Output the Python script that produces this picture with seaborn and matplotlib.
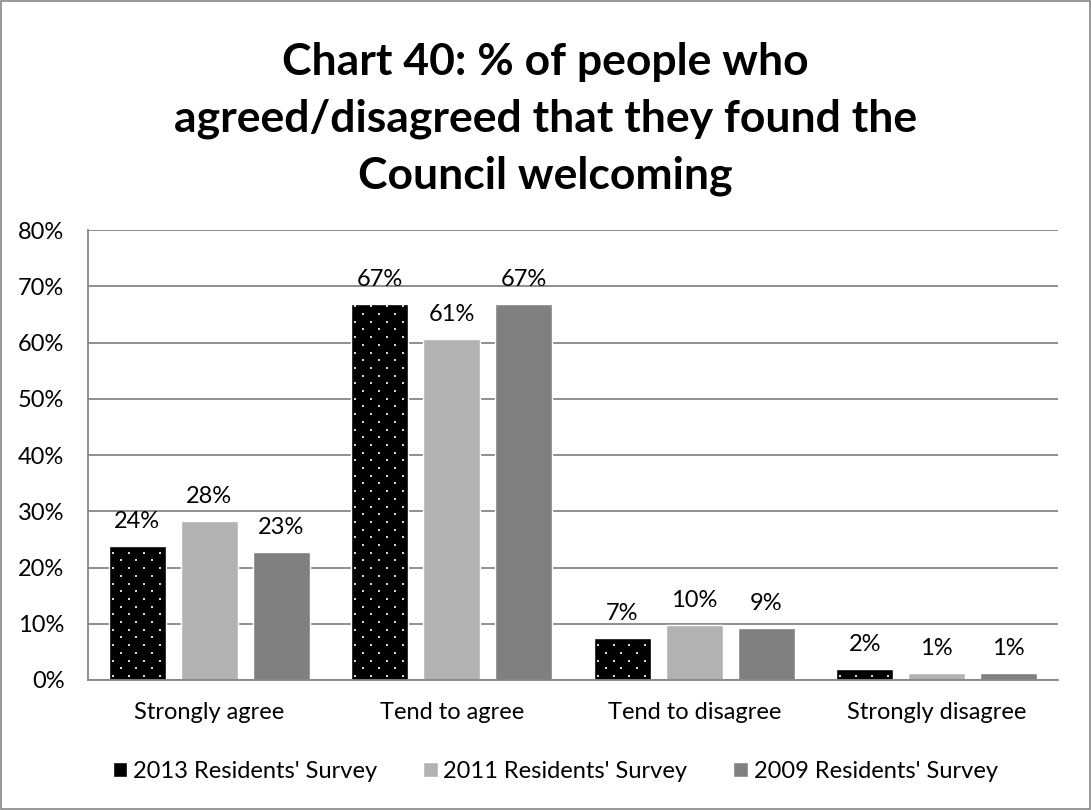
import matplotlib
matplotlib.use("Agg")
import matplotlib.pyplot as plt
from matplotlib.patches import Rectangle
import seaborn as sns
import pandas as pd
import numpy as np

categories = ["Strongly agree", "Tend to agree", "Tend to disagree", "Strongly disagree"]
surveys = ["2013 Residents' Survey", "2011 Residents' Survey", "2009 Residents' Survey"]
values_2013 = [23.9, 66.8, 7.4, 2.0]
values_2011 = [28.3, 60.6, 9.8, 1.3]
values_2009 = [22.8, 66.8, 9.3, 1.2]
y_ticks = [0, 10, 20, 30, 40, 50, 60, 70, 80]

df = pd.DataFrame({
    "Response": categories * 3,
    "Survey": [surveys[0]] * 4 + [surveys[1]] * 4 + [surveys[2]] * 4,
    "Percent": values_2013 + values_2011 + values_2009,
})

sns.set_style("white")
plt.rcParams["font.family"] = ["Lato", "DejaVu Sans"]
plt.rcParams["text.color"] = "black"
plt.rcParams["xtick.color"] = "black"
plt.rcParams["ytick.color"] = "black"

fig = plt.figure(figsize=(10.91, 8.10), dpi=100)
ax = fig.add_axes([0.0807, 0.1605, 0.8891, 0.5555])

palette = {surveys[0]: "#000000", surveys[1]: "#B2B2B2", surveys[2]: "#808080"}
sns.barplot(data=df, x="Response", y="Percent", hue="Survey", order=categories,
            hue_order=surveys, palette=palette, width=0.89, gap=0.21,
            saturation=1, ax=ax, legend=True)

for cont in ax.containers:
    ax.bar_label(cont, labels=[f"{v:.0f}%" for v in cont.datavalues],
                 padding=10, fontsize=17, color="black")

ax.set_ylim(0, 80)
ax.set_xlim(-0.5, 3.5)
ax.set_yticks(y_ticks)
ax.set_yticklabels([f"{t}%" for t in y_ticks])
ax.tick_params(axis="y", length=0, pad=17, labelsize=17, labelcolor="black")
ax.tick_params(axis="x", length=0, pad=16, labelsize=17, labelcolor="black")
ax.set_xlabel("")
ax.set_ylabel("")
ax.yaxis.grid(True, color="#868686", linewidth=1.3)
ax.set_axisbelow(True)
for side in ["top", "right"]:
    ax.spines[side].set_visible(False)
for side in ["left", "bottom"]:
    ax.spines[side].set_color("#868686")
    ax.spines[side].set_linewidth(1.3)

# sparse white dot texture on the 2013 bars (staggered rows)
row_step, col_step = 7.7, 15.7
for bar in ax.containers[0]:
    (x0, y0), (x1, y1) = ax.transData.transform(
        [(bar.get_x(), bar.get_y()), (bar.get_x() + bar.get_width(), bar.get_y() + bar.get_height())])
    pts = []
    for i, yy in enumerate(np.arange(y0 + 4, y1, row_step)):
        start = x0 + 4 + (col_step / 2 if i % 2 else 0)
        for xx in np.arange(start, x1, col_step):
            pts.append((xx, yy))
    if not pts:
        continue
    data_pts = ax.transData.inverted().transform(np.array(pts))
    sc = ax.scatter(data_pts[:, 0], data_pts[:, 1], s=2.2, marker="s",
                    color="#d8d8d8", linewidths=0, zorder=bar.get_zorder() + 0.1)
    sc.set_clip_path(bar)

handles, labels = ax.get_legend_handles_labels()
ax.legend_.remove()
fig.legend(handles, labels, loc="center", bbox_to_anchor=(0.509, 0.048), ncol=3,
           frameon=False, fontsize=17, handlelength=0.6, handleheight=0.6,
           handletextpad=0.25, columnspacing=1.95)

fig.text(0.5, 0.853, "Chart 40: % of people who\nagreed/disagreed that they found the\nCouncil welcoming",
         ha="center", va="center", fontsize=32, fontweight="bold", linespacing=1.5,
         color="black")

fig.add_artist(Rectangle((0.001, 0.001), 0.998, 0.998, transform=fig.transFigure,
                         fill=False, edgecolor="#868686", linewidth=1.2))

fig.savefig("out.png", dpi=100)
